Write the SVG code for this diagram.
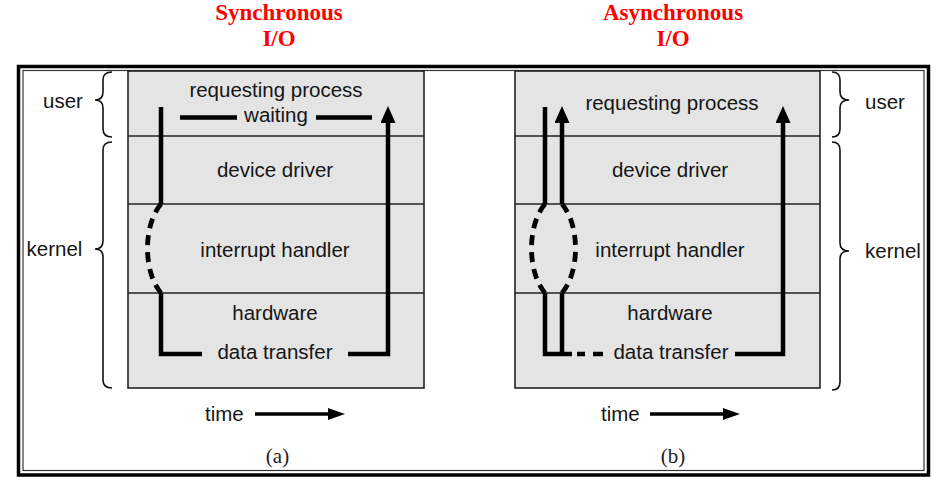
<svg xmlns="http://www.w3.org/2000/svg" width="947" height="487" viewBox="0 0 947 487">
<style>
.t{font-family:"Liberation Sans",Arial,sans-serif;font-size:20.5px;fill:#151515;text-anchor:middle}
.ts{text-anchor:start}
.ttl{font-family:"Liberation Serif","Times New Roman",serif;font-size:23px;font-weight:bold;fill:#ff0000;text-anchor:middle}
.cap{font-family:"Liberation Serif","Times New Roman",serif;font-size:21px;fill:#222;text-anchor:middle}
.box{fill:#e4e4e4;stroke:#222;stroke-width:1.6}
.div{stroke:#222;stroke-width:1.6;fill:none}
.brace{fill:none;stroke:#111;stroke-width:1.6}
.w{fill:none;stroke:#000;stroke-width:4.5;stroke-linejoin:miter;stroke-linecap:butt}
.d{fill:none;stroke:#000;stroke-width:4.8;stroke-dasharray:10 7}
.tm{fill:none;stroke:#000;stroke-width:3.5}
</style>
<defs>
<marker id="ah" markerUnits="userSpaceOnUse" viewBox="0 0 17 15" markerWidth="17" markerHeight="15" refX="1" refY="7.5" orient="auto"><path d="M0,0 L17,7.5 L0,15 z" fill="#000"/></marker>
<marker id="ahs" markerUnits="userSpaceOnUse" viewBox="0 0 17 12" markerWidth="17" markerHeight="12" refX="1" refY="6" orient="auto"><path d="M0,0 L17,6 L0,12 z" fill="#000"/></marker>
</defs>
<rect x="0" y="0" width="947" height="487" fill="#fff"/>
<g id="frame">
<rect x="18.5" y="66.5" width="910" height="408.5" fill="#fff" stroke="#000" stroke-width="3.5"/>
<rect x="23" y="70.5" width="901" height="400" fill="none" stroke="#333" stroke-width="1.2"/>
</g>
<g id="title-sync"><text class="ttl" x="279" y="20">Synchronous</text><text class="ttl" x="279" y="46">I/O</text></g>
<g id="title-async"><text class="ttl" x="673" y="20">Asynchronous</text><text class="ttl" x="673" y="46">I/O</text></g>
<g id="panel-a">
<rect class="box" x="128" y="71" width="296" height="317"/>
<path class="div" d="M128,136 H424 M128,204 H424 M128,293 H424"/>
<text class="t" x="276" y="97">requesting process</text>
<text class="t" x="276" y="122">waiting</text>
<text class="t" x="275" y="177">device driver</text>
<text class="t" x="275" y="257">interrupt handler</text>
<text class="t" x="275" y="320">hardware</text>
<text class="t" x="275" y="359">data transfer</text>
</g>
<g id="panel-b">
<rect class="box" x="515" y="71" width="305" height="317"/>
<path class="div" d="M515,136 H820 M515,204 H820 M515,293 H820"/>
<text class="t" x="672" y="110">requesting process</text>
<text class="t" x="670" y="177">device driver</text>
<text class="t" x="670" y="257">interrupt handler</text>
<text class="t" x="670" y="320">hardware</text>
<text class="t" x="671" y="359">data transfer</text>
</g>
<g id="labels-a">
<text class="t" x="63" y="108">user</text>
<text class="t" x="54.5" y="256">kernel</text>
<path class="brace" d="M112,72 Q103,72 103,80 L103,92 Q103,100 95,100 Q103,100 103,108 L103,129 Q103,137 112,137"/>
<path class="brace" d="M112,142 Q103,142 103,150 L103,241 Q103,249 95,249 Q103,249 103,257 L103,380 Q103,388 112,388"/>
</g>
<g id="labels-b">
<text class="t" x="885" y="109">user</text>
<text class="t" x="893" y="258">kernel</text>
<path class="brace" d="M832,72 Q840,72 840,80 L840,92 Q840,100 849,100 Q840,100 840,108 L840,129 Q840,137 832,137"/>
<path class="brace" d="M832,142 Q840,142 840,150 L840,243 Q840,251 849,251 Q840,251 840,259 L840,382 Q840,390 832,390"/>
</g>
<g id="time-a"><text class="t ts" x="205" y="420.5">time</text><path class="tm" d="M255,414 H329" marker-end="url(#ahs)"/></g>
<g id="time-b"><text class="t ts" x="601" y="420.5">time</text><path class="tm" d="M650,414 H724" marker-end="url(#ahs)"/></g>
<text class="cap" x="277.5" y="463">(a)</text>
<text class="cap" x="673" y="463">(b)</text>
<g id="connectors">
<path class="w" d="M180,117.5 H237 M316,117.5 H372"/>
<path class="w" d="M161,107 V204"/>
<path class="d" d="M161,204 C143,225 143,272 161,293"/>
<path class="w" d="M161,293 V354 H202"/>
<path class="w" d="M348,354 H388 V122" marker-end="url(#ah)"/>
<path class="w" d="M545,107 V204"/>
<path class="d" d="M545,204 C527,225 527,272 545,293"/>
<path class="w" d="M545,293 V354 H572"/>
<path class="w" d="M562,354 V293"/>
<path class="d" d="M562,293 C580,272 580,225 562,204"/>
<path class="w" d="M562,204 V122" marker-end="url(#ah)"/>
<path class="w" d="M577,354 H585 M593,354 H603"/>
<path class="w" d="M735,354 H783 V122" marker-end="url(#ah)"/>
</g>
</svg>
